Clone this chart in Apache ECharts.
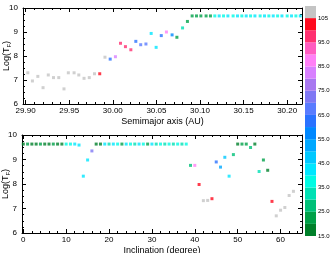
<!DOCTYPE html>
<html><head><meta charset="utf-8">
<script src="https://cdn.jsdelivr.net/npm/echarts@6/dist/echarts.min.js"></script>
<style>html,body{margin:0;padding:0;background:#fff}#c{width:336px;height:253px}</style>
</head><body><div id="c"></div>
<script>
// ---- Top panel: semimajor axis vs Log(T) ----
const semimajorAxis = [29.9025, 29.9078, 29.9140, 29.9200, 29.9260, 29.9320, 29.9380, 29.9440, 29.9490, 29.9556,
  29.9610, 29.9670, 29.9730, 29.9790, 29.9850, 29.9910, 29.9970, 30.0030, 30.0088, 30.0145,
  30.0207, 30.0264, 30.0320, 30.0380, 30.0440, 30.0497, 30.0556, 30.0615, 30.0680, 30.0735,
  30.0800, 30.0856,
  30.091, 30.096, 30.101, 30.107, 30.112, 30.117, 30.122, 30.127, 30.132, 30.138,
  30.143, 30.148, 30.153, 30.158, 30.163, 30.169, 30.174, 30.179, 30.184, 30.189,
  30.194, 30.200, 30.205, 30.210, 30.215];
const logTTop = [7.30, 6.96, 7.15, 6.68, 7.21, 7.10, 7.10, 6.63, 7.30, 7.30,
  7.21, 7.07, 7.10, 7.26, 7.26, 7.95, 7.87, 7.97, 8.53, 8.39,
  8.26, 8.61, 8.47, 8.50, 8.94, 8.36, 8.85, 9.00, 8.88, 8.78,
  9.17, 9.44,
  9.67, 9.67, 9.67, 9.67, 9.67, 9.67, 9.67, 9.67, 9.67, 9.67,
  9.67, 9.67, 9.67, 9.67, 9.67, 9.67, 9.67, 9.67, 9.67, 9.67,
  9.67, 9.67, 9.67, 9.67, 9.67];
const colorTop = [108, 108, 108, 108, 108, 108, 108, 108, 108, 108,
  108, 108, 108, 108, 102, 108, 62, 82, 98, 98,
  98, 60, 68, 68, 40, 40, 60, 88, 58, 22,
  32, 20,
  20, 24, 20, 24, 20, 38, 42, 38, 42, 38,
  42, 38, 42, 38, 42, 38, 42, 38, 42, 38,
  42, 38, 42, 38, 42];

// ---- Bottom panel: inclination vs Log(T) ----
const inclination = [0, 1, 2, 3, 4, 5, 6, 7, 8, 9, 10, 11, 12, 13, 14, 15, 16,
  17, 18, 19, 20, 21, 22, 23, 24, 25, 26, 27, 28, 29, 30, 31, 32, 33, 34, 35, 36, 37, 38,
  39, 40, 41, 42, 43, 44, 45, 46, 47, 48, 49, 50, 51, 52, 53, 54, 55, 56, 57, 58, 59, 60, 61, 62, 63];
const logTBottom = [9.63, 9.63, 9.63, 9.63, 9.63, 9.63, 9.63, 9.63, 9.63, 9.63, 9.63, 9.63, 9.63, 9.59, 8.32, 8.98, 9.35,
  9.63, 9.63, 9.63, 9.63, 9.63, 9.63, 9.63, 9.63, 9.63, 9.63, 9.63, 9.63, 9.63, 9.63, 9.63, 9.63, 9.63, 9.63, 9.63, 9.63, 9.63, 9.63,
  8.76, 8.76, 7.98, 7.32, 7.33, 7.40, 8.90, 8.69, 9.09, 8.32, 9.20, 9.63, 9.63, 9.63, 9.49, 9.63, 8.51, 8.98, 8.56, 7.29,
  6.70, 6.93, 7.04, 7.53, 7.70];
const colorBottom = [18, 23, 18, 18, 23, 18, 18, 23, 18, 18, 38, 38, 40, 42, 40, 42, 72,
  18, 18, 42, 33, 42, 38, 20, 42, 38, 33, 42, 38, 20, 42, 33, 38, 33, 38, 33, 38, 33, 38,
  25, 88, 102, 108, 108, 102, 60, 52, 47, 42, 28, 18, 22, 22, 27, 18, 32, 23, 18, 102,
  108, 108, 108, 108, 108];

// ---- Colour scale ----
const colorbarStops = [15, 20, 25, 30, 35, 40, 45, 50, 55, 60, 65, 70, 75, 80, 85, 90, 95, 100, 105, 110];
const colorbarColors = ['#00802a', '#00a048', '#00c078', '#00e0b4', '#00fbe4', '#00e6ff', '#00c8ff', '#00a8ff',
  '#0088ff', '#2a72ff', '#5a7cff', '#8078f4', '#a878f0', '#d880ff', '#ff80f6', '#ff5cc0', '#ff3070', '#ff0a1e', '#c4c4c4'];
const colorbarLabels = [15, 25, 35, 45, 55, 65, 75, 85, 95, 105];

// ---- Tick labels ----
const topMajorTicks = [29.90, 29.95, 30.00, 30.05, 30.10, 30.15, 30.20];
const bottomMajorTicks = [0, 10, 20, 30, 40, 50, 60];
const logTicks = [6, 7, 8, 9, 10];

const NARROW = '"Liberation Sans Narrow", "Arial Narrow", "Liberation Sans", Arial, sans-serif';
const SANS = '"Liberation Sans", Arial, sans-serif';

const topMinor = [];
for (let k = 0; k <= 31; k++) { if (k % 5) topMinor.push(+(29.90 + k * 0.01).toFixed(2)); }
const bottomMinor = [];
for (let k = 0; k <= 64; k += 2) { if (k % 10) bottomMinor.push(k); }

function xAxesFor(grid, min, max, majors, minors, fmt, name, nameGap) {
  const base = { type: 'value', gridIndex: grid, min: min, max: max, splitLine: { show: false } };
  const line = { show: true, onZero: false, lineStyle: { color: '#000', width: 1 } };
  return [
    Object.assign({}, base, { position: 'bottom', axisLine: line,
      axisTick: { show: true, inside: true, length: 4, customValues: majors, lineStyle: { color: '#000' } },
      axisLabel: { show: true, customValues: majors, formatter: fmt, fontSize: 8, fontFamily: NARROW, color: '#000', margin: 3 },
      name: name, nameLocation: 'middle', nameGap: nameGap, nameMoveOverlap: false,
      nameTextStyle: { fontSize: 9, fontFamily: SANS, color: '#000' } }),
    Object.assign({}, base, { position: 'bottom', axisLine: { show: false },
      axisTick: { show: true, inside: true, length: 2, customValues: minors, lineStyle: { color: '#000' } },
      axisLabel: { show: false } }),
    Object.assign({}, base, { position: 'top', axisLine: line,
      axisTick: { show: true, inside: true, length: 4, customValues: majors, lineStyle: { color: '#000' } },
      axisLabel: { show: false } }),
    Object.assign({}, base, { position: 'top', axisLine: { show: false },
      axisTick: { show: true, inside: true, length: 2, customValues: minors, lineStyle: { color: '#000' } },
      axisLabel: { show: false } })
  ];
}
function yAxesFor(grid) {
  const base = { type: 'value', gridIndex: grid, min: logTicks[0], max: logTicks[logTicks.length - 1], interval: 1,
    splitLine: { show: false }, minorSplitLine: { show: false },
    axisLine: { show: true, onZero: false, lineStyle: { color: '#000', width: 1 } },
    axisTick: { show: true, inside: true, length: 4, lineStyle: { color: '#000' } },
    minorTick: { show: true, splitNumber: 4, length: 2, lineStyle: { color: '#000' } } };
  return [
    Object.assign({}, base, { position: 'left',
      axisLabel: { show: true, fontSize: 8, fontFamily: NARROW, color: '#000', margin: 5 },
      name: 'Log(T{s|F})', nameLocation: 'middle', nameGap: 11, nameRotate: 90, nameMoveOverlap: false,
      nameTextStyle: { fontSize: 9, fontFamily: SANS, color: '#000',
        rich: { s: { fontSize: 6, fontFamily: SANS, color: '#000', verticalAlign: 'bottom', padding: [4, 0, 0, 0] } } } }),
    Object.assign({}, base, { position: 'right', axisLabel: { show: false } })
  ];
}

const xAxes = []
  .concat(xAxesFor(0, 29.897, 30.217, topMajorTicks, topMinor, v => v.toFixed(2), 'Semimajor axis (AU)', 13))
  .concat(xAxesFor(1, -0.3, 65, bottomMajorTicks, bottomMinor, v => String(v), 'Inclination (degree)', 13));
xAxes.push({ type: 'category', gridIndex: 2, data: ['cb'], show: false });

const yAxes = [].concat(yAxesFor(0)).concat(yAxesFor(1));
yAxes.push({ type: 'value', gridIndex: 2, min: colorbarStops[0], max: colorbarStops[colorbarStops.length - 1],
  position: 'right', axisLine: { show: false }, axisTick: { show: false }, splitLine: { show: false },
  axisLabel: { show: true, customValues: colorbarLabels, formatter: v => (v >= 100 ? String(v) : v.toFixed(1)),
    fontSize: 6, fontFamily: NARROW, color: '#000', margin: 2 } });

const series = [
  { type: 'scatter', xAxisIndex: 0, yAxisIndex: 0, symbol: 'rect', symbolSize: 3, clip: true,
    data: semimajorAxis.map((a, i) => [a, logTTop[i], colorTop[i]]) },
  { type: 'scatter', xAxisIndex: 4, yAxisIndex: 2, symbol: 'rect', symbolSize: 3, clip: true,
    data: inclination.map((v, i) => [v, logTBottom[i], colorBottom[i]]) },
  { type: 'bar', xAxisIndex: 8, yAxisIndex: 4, stack: 'cb', barWidth: '100%', silent: true, clip: true,
    data: [colorbarStops[0]], itemStyle: { color: 'rgba(0,0,0,0)' } }
];
colorbarColors.forEach((c, i) => {
  series.push({ type: 'bar', xAxisIndex: 8, yAxisIndex: 4, stack: 'cb', barWidth: '100%', silent: true, clip: true,
    data: [colorbarStops[i + 1] - colorbarStops[i]], itemStyle: { color: c } });
});

const chart = echarts.init(document.getElementById('c'), null, { renderer: 'canvas' });
chart.setOption({
  animation: false,
  backgroundColor: '#fff',
  grid: [
    { left: 23, right: 34, top: 8, height: 96, containLabel: false, outerBoundsMode: 'none' },
    { left: 22, right: 34, top: 135, height: 98, containLabel: false, outerBoundsMode: 'none' },
    { left: 305, width: 11, top: 6, height: 230, containLabel: false, outerBoundsMode: 'none' }
  ],
  xAxis: xAxes,
  yAxis: yAxes,
  visualMap: {
    type: 'piecewise', show: false, dimension: 2, seriesIndex: [0, 1],
    pieces: colorbarColors.map((c, i) => ({ gte: colorbarStops[i], lt: colorbarStops[i + 1], color: c }))
  },
  series: series
});
</script></body></html>
